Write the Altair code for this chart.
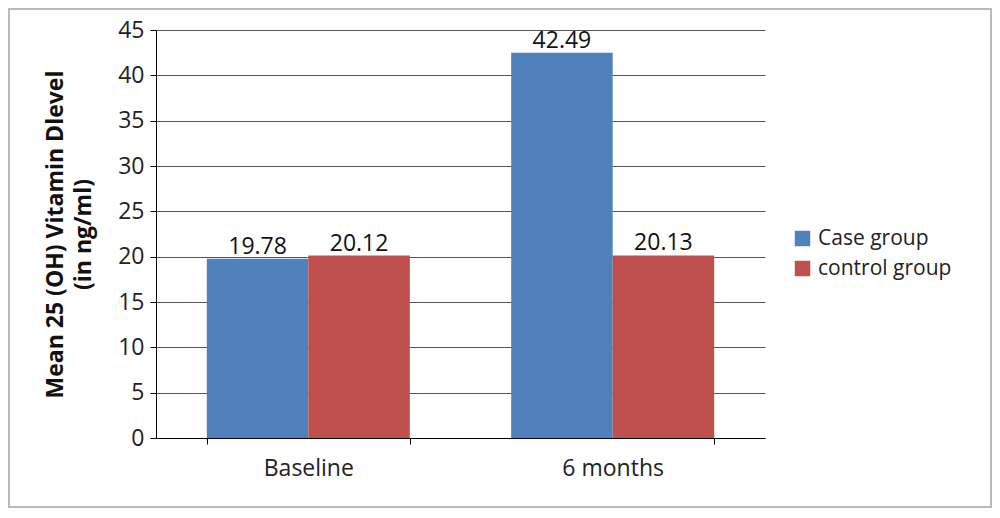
import altair as alt
import pandas as pd

categories = ["Baseline", "6 months"]
groups = ["Case group", "control group"]
case_values = [19.78, 42.49]
control_values = [20.12, 20.13]
y_ticks = [0, 5, 10, 15, 20, 25, 30, 35, 40, 45]
colors = ["#4F81BD", "#C0504D"]

rows = []
for i, c in enumerate(categories):
    rows.append({"period": c, "group": groups[0], "value": case_values[i]})
    rows.append({"period": c, "group": groups[1], "value": control_values[i]})
df = pd.DataFrame(rows)
df["label"] = df["value"].map(lambda v: f"{v:.2f}")

FONT = "Open Sans"

x = alt.X(
    "period:N", sort=categories, title=None,
    scale=alt.Scale(paddingInner=0.333, paddingOuter=0.167),
    axis=alt.Axis(labelAngle=0, tickBand="extent", domainColor="black", tickColor="black",
                  tickSize=6, labelFontSize=23, labelPadding=13, labelColor="#222",
                  labelFont=FONT, grid=False, domainWidth=1),
)
y = alt.Y(
    "value:Q", scale=alt.Scale(domain=[0, 45], nice=False),
    title=["Mean 25 (OH) Vitamin Dlevel", "(in ng/ml)"],
    axis=alt.Axis(values=y_ticks, grid=True, gridColor="#555", domainColor="black",
                  tickColor="black", tickSize=6, labelFontSize=23, labelPadding=6,
                  labelColor="#222", labelFont=FONT, titleFont=FONT, titleFontSize=23,
                  titleFontWeight="bold", titleColor="#111", titlePadding=22,
                  titleLineHeight=28),
)
xoff = alt.XOffset("group:N", sort=groups, scale=alt.Scale(paddingInner=0, paddingOuter=0))

bars = alt.Chart(df).mark_bar().encode(
    x=x, y=y, xOffset=xoff,
    color=alt.Color("group:N", sort=groups, scale=alt.Scale(domain=groups, range=colors),
                    legend=alt.Legend(title=None, orient="none", legendX=636, legendY=198,
                                      symbolType="square", symbolSize=240, symbolStrokeWidth=0,
                                      labelFontSize=21, labelFont=FONT, labelColor="#222",
                                      labelOffset=5, rowPadding=8)),
)

texts = alt.Chart(df).mark_text(baseline="alphabetic", dy=-5, fontSize=23, font=FONT, color="#111").encode(
    x=x, y=y, xOffset=xoff, text="label:N"
)

border = alt.Chart(pd.DataFrame({"a": [0]})).mark_rect(
    fill="transparent", stroke="#bbb", strokeWidth=2, clip=False
).encode(x=alt.value(-147), x2=alt.value(835), y=alt.value(-21), y2=alt.value(477))

chart = alt.layer(border, bars, texts).properties(
    width=609, height=408,
    padding={"left": 148, "top": 22, "right": 227, "bottom": 70},
    autosize=alt.AutoSizeParams(type="none"),
    background="white",
).configure_view(stroke=None)

chart.save("out.html", embed_options={"renderer": "svg", "actions": False})
